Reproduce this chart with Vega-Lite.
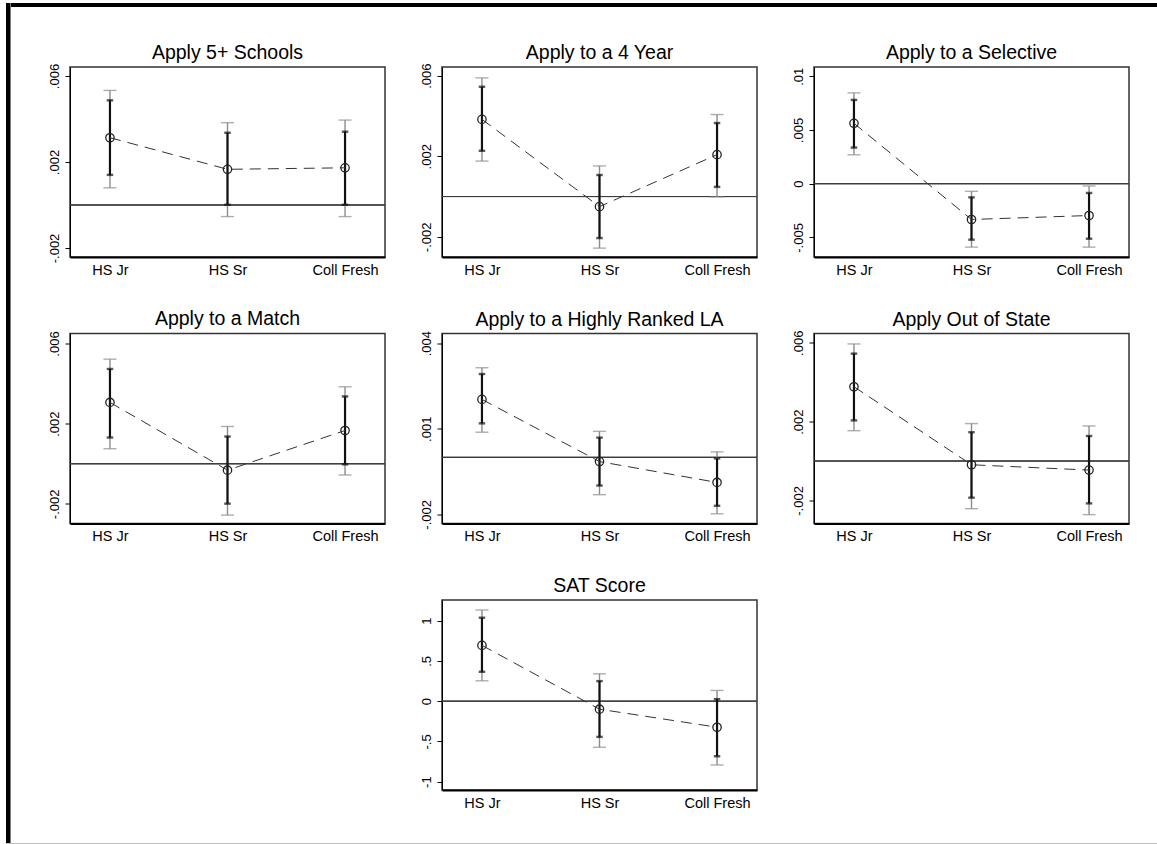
{
"$schema": "https://vega.github.io/schema/vega-lite/v6.json",
"background": "white",
"padding": {"left": 6, "top": 3, "right": 0, "bottom": 0},
"spacing": 0,
"vconcat": [
 {"hconcat": [
   {"width": 4.5, "height": 840, "data": {"values": [{}]}, "mark": {"type": "point", "opacity": 0, "size": 0}, "view": {"fill": "#000000", "stroke": null}},
   {"concat": [
     {"width": 1146.5, "height": 4, "data": {"values": [{}]}, "mark": {"type": "point", "opacity": 0, "size": 0}, "view": {"fill": "#000000", "stroke": null}},
     {"hconcat": [
       {"width": 35.5, "height": 1, "data": {"values": [{}]}, "mark": {"type": "point", "opacity": 0, "size": 0}, "view": {"stroke": null}},
       {"concat": [
        {"title": {"text": "Apply 5+ Schools", "dy": 4}, "width": 315, "height": 190,
         "data": {"values": [
          {"cat": "HS Jr", "est": 0.00313, "lo_n": 0.0014, "hi_n": 0.00487, "lo_w": 0.0008, "hi_w": 0.00533},
          {"cat": "HS Sr", "est": 0.00166, "lo_n": 0.00001, "hi_n": 0.00336, "lo_w": -0.00054, "hi_w": 0.00383},
          {"cat": "Coll Fresh", "est": 0.00173, "lo_n": 0.00001, "hi_n": 0.00341, "lo_w": -0.00054, "hi_w": 0.00395}]},
         "layer": [
          {"mark": {"type": "rule", "color": "#3c3c3c", "strokeWidth": 1}, "encoding": {"y": {"datum": 0, "type": "quantitative", "scale": {"domain": [-0.00242, 0.00642], "nice": false, "zero": false}, "axis": {"values": [-0.002, 0.002, 0.006], "title": null, "labelExpr": "replace(toString(datum.value), regexp('^(-?)0[.]'), '$1.')"}}}},
          {"mark": {"type": "errorbar", "ticks": {"size": 13, "color": "#8c8c8c", "thickness": 1.4}, "rule": {"color": "#8c8c8c", "strokeWidth": 1.4}}, "encoding": {"x": {"field": "cat", "type": "ordinal", "sort": ["HS Jr", "HS Sr", "Coll Fresh"], "scale": {"type": "point", "padding": 0.34}, "axis": {"title": null}}, "y": {"field": "lo_w", "type": "quantitative", "title": null, "scale": {"domain": [-0.00242, 0.00642], "nice": false, "zero": false}}, "y2": {"field": "hi_w"}}},
          {"mark": {"type": "errorbar", "ticks": {"size": 6.5, "color": "#111111", "thickness": 2.4}, "rule": {"color": "#111111", "strokeWidth": 2.2}}, "encoding": {"x": {"field": "cat", "type": "ordinal", "sort": ["HS Jr", "HS Sr", "Coll Fresh"], "scale": {"type": "point", "padding": 0.34}, "axis": {"title": null}}, "y": {"field": "lo_n", "type": "quantitative", "title": null, "scale": {"domain": [-0.00242, 0.00642], "nice": false, "zero": false}}, "y2": {"field": "hi_n"}}},
          {"mark": {"type": "line", "color": "#333333", "strokeWidth": 1, "strokeDash": [11, 7]}, "encoding": {"x": {"field": "cat", "type": "ordinal", "sort": ["HS Jr", "HS Sr", "Coll Fresh"], "scale": {"type": "point", "padding": 0.34}, "axis": {"title": null}}, "y": {"field": "est", "type": "quantitative", "title": null, "scale": {"domain": [-0.00242, 0.00642], "nice": false, "zero": false}}}},
          {"mark": {"type": "point", "shape": "circle", "filled": false, "size": 70, "color": "#222222", "strokeWidth": 1.3, "opacity": 1}, "encoding": {"x": {"field": "cat", "type": "ordinal", "sort": ["HS Jr", "HS Sr", "Coll Fresh"], "scale": {"type": "point", "padding": 0.34}, "axis": {"title": null}}, "y": {"field": "est", "type": "quantitative", "title": null, "scale": {"domain": [-0.00242, 0.00642], "nice": false, "zero": false}}}}
         ]},
        {"title": {"text": "Apply to a 4 Year", "dy": 4}, "width": 315, "height": 190,
         "data": {"values": [
          {"cat": "HS Jr", "est": 0.00383, "lo_n": 0.00227, "hi_n": 0.00545, "lo_w": 0.00176, "hi_w": 0.00589},
          {"cat": "HS Sr", "est": -0.0005, "lo_n": -0.00206, "hi_n": 0.00107, "lo_w": -0.00256, "hi_w": 0.00152},
          {"cat": "Coll Fresh", "est": 0.00208, "lo_n": 0.00048, "hi_n": 0.00365, "lo_w": -0.00002, "hi_w": 0.00407}]},
         "layer": [
          {"mark": {"type": "rule", "color": "#3c3c3c", "strokeWidth": 1}, "encoding": {"y": {"datum": 0, "type": "quantitative", "scale": {"domain": [-0.003, 0.00643], "nice": false, "zero": false}, "axis": {"values": [-0.002, 0.002, 0.006], "title": null, "labelExpr": "replace(toString(datum.value), regexp('^(-?)0[.]'), '$1.')"}}}},
          {"mark": {"type": "errorbar", "ticks": {"size": 13, "color": "#8c8c8c", "thickness": 1.4}, "rule": {"color": "#8c8c8c", "strokeWidth": 1.4}}, "encoding": {"x": {"field": "cat", "type": "ordinal", "sort": ["HS Jr", "HS Sr", "Coll Fresh"], "scale": {"type": "point", "padding": 0.34}, "axis": {"title": null}}, "y": {"field": "lo_w", "type": "quantitative", "title": null, "scale": {"domain": [-0.003, 0.00643], "nice": false, "zero": false}}, "y2": {"field": "hi_w"}}},
          {"mark": {"type": "errorbar", "ticks": {"size": 6.5, "color": "#111111", "thickness": 2.4}, "rule": {"color": "#111111", "strokeWidth": 2.2}}, "encoding": {"x": {"field": "cat", "type": "ordinal", "sort": ["HS Jr", "HS Sr", "Coll Fresh"], "scale": {"type": "point", "padding": 0.34}, "axis": {"title": null}}, "y": {"field": "lo_n", "type": "quantitative", "title": null, "scale": {"domain": [-0.003, 0.00643], "nice": false, "zero": false}}, "y2": {"field": "hi_n"}}},
          {"mark": {"type": "line", "color": "#333333", "strokeWidth": 1, "strokeDash": [11, 7]}, "encoding": {"x": {"field": "cat", "type": "ordinal", "sort": ["HS Jr", "HS Sr", "Coll Fresh"], "scale": {"type": "point", "padding": 0.34}, "axis": {"title": null}}, "y": {"field": "est", "type": "quantitative", "title": null, "scale": {"domain": [-0.003, 0.00643], "nice": false, "zero": false}}}},
          {"mark": {"type": "point", "shape": "circle", "filled": false, "size": 70, "color": "#222222", "strokeWidth": 1.3, "opacity": 1}, "encoding": {"x": {"field": "cat", "type": "ordinal", "sort": ["HS Jr", "HS Sr", "Coll Fresh"], "scale": {"type": "point", "padding": 0.34}, "axis": {"title": null}}, "y": {"field": "est", "type": "quantitative", "title": null, "scale": {"domain": [-0.003, 0.00643], "nice": false, "zero": false}}}}
         ]},
        {"title": {"text": "Apply to a Selective", "dy": 0}, "width": 315, "height": 190,
         "data": {"values": [
          {"cat": "HS Jr", "est": 0.00562, "lo_n": 0.00336, "hi_n": 0.0078, "lo_w": 0.00269, "hi_w": 0.00845},
          {"cat": "HS Sr", "est": -0.00333, "lo_n": -0.00521, "hi_n": -0.00127, "lo_w": -0.0059, "hi_w": -0.00071},
          {"cat": "Coll Fresh", "est": -0.00296, "lo_n": -0.00512, "hi_n": -0.00086, "lo_w": -0.0059, "hi_w": -0.00021}]},
         "layer": [
          {"mark": {"type": "rule", "color": "#3c3c3c", "strokeWidth": 1}, "encoding": {"y": {"datum": 0, "type": "quantitative", "scale": {"domain": [-0.00682, 0.01086], "nice": false, "zero": false}, "axis": {"values": [-0.005, 0, 0.005, 0.01], "title": null, "labelExpr": "replace(toString(datum.value), regexp('^(-?)0[.]'), '$1.')"}}}},
          {"mark": {"type": "errorbar", "ticks": {"size": 13, "color": "#8c8c8c", "thickness": 1.4}, "rule": {"color": "#8c8c8c", "strokeWidth": 1.4}}, "encoding": {"x": {"field": "cat", "type": "ordinal", "sort": ["HS Jr", "HS Sr", "Coll Fresh"], "scale": {"type": "point", "padding": 0.34}, "axis": {"title": null}}, "y": {"field": "lo_w", "type": "quantitative", "title": null, "scale": {"domain": [-0.00682, 0.01086], "nice": false, "zero": false}}, "y2": {"field": "hi_w"}}},
          {"mark": {"type": "errorbar", "ticks": {"size": 6.5, "color": "#111111", "thickness": 2.4}, "rule": {"color": "#111111", "strokeWidth": 2.2}}, "encoding": {"x": {"field": "cat", "type": "ordinal", "sort": ["HS Jr", "HS Sr", "Coll Fresh"], "scale": {"type": "point", "padding": 0.34}, "axis": {"title": null}}, "y": {"field": "lo_n", "type": "quantitative", "title": null, "scale": {"domain": [-0.00682, 0.01086], "nice": false, "zero": false}}, "y2": {"field": "hi_n"}}},
          {"mark": {"type": "line", "color": "#333333", "strokeWidth": 1, "strokeDash": [11, 7]}, "encoding": {"x": {"field": "cat", "type": "ordinal", "sort": ["HS Jr", "HS Sr", "Coll Fresh"], "scale": {"type": "point", "padding": 0.34}, "axis": {"title": null}}, "y": {"field": "est", "type": "quantitative", "title": null, "scale": {"domain": [-0.00682, 0.01086], "nice": false, "zero": false}}}},
          {"mark": {"type": "point", "shape": "circle", "filled": false, "size": 70, "color": "#222222", "strokeWidth": 1.3, "opacity": 1}, "encoding": {"x": {"field": "cat", "type": "ordinal", "sort": ["HS Jr", "HS Sr", "Coll Fresh"], "scale": {"type": "point", "padding": 0.34}, "axis": {"title": null}}, "y": {"field": "est", "type": "quantitative", "title": null, "scale": {"domain": [-0.00682, 0.01086], "nice": false, "zero": false}}}}
         ]},
        {"title": {"text": "Apply to a Match", "dy": 3}, "width": 315, "height": 190,
         "data": {"values": [
          {"cat": "HS Jr", "est": 0.00306, "lo_n": 0.00131, "hi_n": 0.00473, "lo_w": 0.00075, "hi_w": 0.00522},
          {"cat": "HS Sr", "est": -0.00032, "lo_n": -0.00199, "hi_n": 0.00136, "lo_w": -0.00256, "hi_w": 0.00186},
          {"cat": "Coll Fresh", "est": 0.00166, "lo_n": -0.00003, "hi_n": 0.00336, "lo_w": -0.00056, "hi_w": 0.00384}]},
         "layer": [
          {"mark": {"type": "rule", "color": "#3c3c3c", "strokeWidth": 1}, "encoding": {"y": {"datum": 0, "type": "quantitative", "scale": {"domain": [-0.00298, 0.0065], "nice": false, "zero": false}, "axis": {"values": [-0.002, 0.002, 0.006], "title": null, "labelExpr": "replace(toString(datum.value), regexp('^(-?)0[.]'), '$1.')"}}}},
          {"mark": {"type": "errorbar", "ticks": {"size": 13, "color": "#8c8c8c", "thickness": 1.4}, "rule": {"color": "#8c8c8c", "strokeWidth": 1.4}}, "encoding": {"x": {"field": "cat", "type": "ordinal", "sort": ["HS Jr", "HS Sr", "Coll Fresh"], "scale": {"type": "point", "padding": 0.34}, "axis": {"title": null}}, "y": {"field": "lo_w", "type": "quantitative", "title": null, "scale": {"domain": [-0.00298, 0.0065], "nice": false, "zero": false}}, "y2": {"field": "hi_w"}}},
          {"mark": {"type": "errorbar", "ticks": {"size": 6.5, "color": "#111111", "thickness": 2.4}, "rule": {"color": "#111111", "strokeWidth": 2.2}}, "encoding": {"x": {"field": "cat", "type": "ordinal", "sort": ["HS Jr", "HS Sr", "Coll Fresh"], "scale": {"type": "point", "padding": 0.34}, "axis": {"title": null}}, "y": {"field": "lo_n", "type": "quantitative", "title": null, "scale": {"domain": [-0.00298, 0.0065], "nice": false, "zero": false}}, "y2": {"field": "hi_n"}}},
          {"mark": {"type": "line", "color": "#333333", "strokeWidth": 1, "strokeDash": [11, 7]}, "encoding": {"x": {"field": "cat", "type": "ordinal", "sort": ["HS Jr", "HS Sr", "Coll Fresh"], "scale": {"type": "point", "padding": 0.34}, "axis": {"title": null}}, "y": {"field": "est", "type": "quantitative", "title": null, "scale": {"domain": [-0.00298, 0.0065], "nice": false, "zero": false}}}},
          {"mark": {"type": "point", "shape": "circle", "filled": false, "size": 70, "color": "#222222", "strokeWidth": 1.3, "opacity": 1}, "encoding": {"x": {"field": "cat", "type": "ordinal", "sort": ["HS Jr", "HS Sr", "Coll Fresh"], "scale": {"type": "point", "padding": 0.34}, "axis": {"title": null}}, "y": {"field": "est", "type": "quantitative", "title": null, "scale": {"domain": [-0.00298, 0.0065], "nice": false, "zero": false}}}}
         ]},
        {"title": {"text": "Apply to a Highly Ranked LA", "dy": 3.5}, "width": 315, "height": 190,
         "data": {"values": [
          {"cat": "HS Jr", "est": 0.00203, "lo_n": 0.00119, "hi_n": 0.00292, "lo_w": 0.00088, "hi_w": 0.00314},
          {"cat": "HS Sr", "est": -0.00015, "lo_n": -0.00099, "hi_n": 0.00069, "lo_w": -0.00131, "hi_w": 0.00091},
          {"cat": "Coll Fresh", "est": -0.00088, "lo_n": -0.0017, "hi_n": -0.00004, "lo_w": -0.00198, "hi_w": 0.00019}]},
         "layer": [
          {"mark": {"type": "rule", "color": "#3c3c3c", "strokeWidth": 1}, "encoding": {"y": {"datum": 0, "type": "quantitative", "scale": {"domain": [-0.00232, 0.00434], "nice": false, "zero": false}, "axis": {"values": [-0.002, 0.001, 0.004], "title": null, "labelExpr": "replace(toString(datum.value), regexp('^(-?)0[.]'), '$1.')"}}}},
          {"mark": {"type": "errorbar", "ticks": {"size": 13, "color": "#8c8c8c", "thickness": 1.4}, "rule": {"color": "#8c8c8c", "strokeWidth": 1.4}}, "encoding": {"x": {"field": "cat", "type": "ordinal", "sort": ["HS Jr", "HS Sr", "Coll Fresh"], "scale": {"type": "point", "padding": 0.34}, "axis": {"title": null}}, "y": {"field": "lo_w", "type": "quantitative", "title": null, "scale": {"domain": [-0.00232, 0.00434], "nice": false, "zero": false}}, "y2": {"field": "hi_w"}}},
          {"mark": {"type": "errorbar", "ticks": {"size": 6.5, "color": "#111111", "thickness": 2.4}, "rule": {"color": "#111111", "strokeWidth": 2.2}}, "encoding": {"x": {"field": "cat", "type": "ordinal", "sort": ["HS Jr", "HS Sr", "Coll Fresh"], "scale": {"type": "point", "padding": 0.34}, "axis": {"title": null}}, "y": {"field": "lo_n", "type": "quantitative", "title": null, "scale": {"domain": [-0.00232, 0.00434], "nice": false, "zero": false}}, "y2": {"field": "hi_n"}}},
          {"mark": {"type": "line", "color": "#333333", "strokeWidth": 1, "strokeDash": [11, 7]}, "encoding": {"x": {"field": "cat", "type": "ordinal", "sort": ["HS Jr", "HS Sr", "Coll Fresh"], "scale": {"type": "point", "padding": 0.34}, "axis": {"title": null}}, "y": {"field": "est", "type": "quantitative", "title": null, "scale": {"domain": [-0.00232, 0.00434], "nice": false, "zero": false}}}},
          {"mark": {"type": "point", "shape": "circle", "filled": false, "size": 70, "color": "#222222", "strokeWidth": 1.3, "opacity": 1}, "encoding": {"x": {"field": "cat", "type": "ordinal", "sort": ["HS Jr", "HS Sr", "Coll Fresh"], "scale": {"type": "point", "padding": 0.34}, "axis": {"title": null}}, "y": {"field": "est", "type": "quantitative", "title": null, "scale": {"domain": [-0.00232, 0.00434], "nice": false, "zero": false}}}}
         ]},
        {"title": {"text": "Apply Out of State", "dy": 4}, "width": 315, "height": 190,
         "data": {"values": [
          {"cat": "HS Jr", "est": 0.00377, "lo_n": 0.00206, "hi_n": 0.00545, "lo_w": 0.00154, "hi_w": 0.00594},
          {"cat": "HS Sr", "est": -0.00019, "lo_n": -0.00186, "hi_n": 0.00146, "lo_w": -0.00242, "hi_w": 0.0019},
          {"cat": "Coll Fresh", "est": -0.00046, "lo_n": -0.00215, "hi_n": 0.00127, "lo_w": -0.00272, "hi_w": 0.00178}]},
         "layer": [
          {"mark": {"type": "rule", "color": "#3c3c3c", "strokeWidth": 1}, "encoding": {"y": {"datum": 0, "type": "quantitative", "scale": {"domain": [-0.00317, 0.00647], "nice": false, "zero": false}, "axis": {"values": [-0.002, 0.002, 0.006], "title": null, "labelExpr": "replace(toString(datum.value), regexp('^(-?)0[.]'), '$1.')"}}}},
          {"mark": {"type": "errorbar", "ticks": {"size": 13, "color": "#8c8c8c", "thickness": 1.4}, "rule": {"color": "#8c8c8c", "strokeWidth": 1.4}}, "encoding": {"x": {"field": "cat", "type": "ordinal", "sort": ["HS Jr", "HS Sr", "Coll Fresh"], "scale": {"type": "point", "padding": 0.34}, "axis": {"title": null}}, "y": {"field": "lo_w", "type": "quantitative", "title": null, "scale": {"domain": [-0.00317, 0.00647], "nice": false, "zero": false}}, "y2": {"field": "hi_w"}}},
          {"mark": {"type": "errorbar", "ticks": {"size": 6.5, "color": "#111111", "thickness": 2.4}, "rule": {"color": "#111111", "strokeWidth": 2.2}}, "encoding": {"x": {"field": "cat", "type": "ordinal", "sort": ["HS Jr", "HS Sr", "Coll Fresh"], "scale": {"type": "point", "padding": 0.34}, "axis": {"title": null}}, "y": {"field": "lo_n", "type": "quantitative", "title": null, "scale": {"domain": [-0.00317, 0.00647], "nice": false, "zero": false}}, "y2": {"field": "hi_n"}}},
          {"mark": {"type": "line", "color": "#333333", "strokeWidth": 1, "strokeDash": [11, 7]}, "encoding": {"x": {"field": "cat", "type": "ordinal", "sort": ["HS Jr", "HS Sr", "Coll Fresh"], "scale": {"type": "point", "padding": 0.34}, "axis": {"title": null}}, "y": {"field": "est", "type": "quantitative", "title": null, "scale": {"domain": [-0.00317, 0.00647], "nice": false, "zero": false}}}},
          {"mark": {"type": "point", "shape": "circle", "filled": false, "size": 70, "color": "#222222", "strokeWidth": 1.3, "opacity": 1}, "encoding": {"x": {"field": "cat", "type": "ordinal", "sort": ["HS Jr", "HS Sr", "Coll Fresh"], "scale": {"type": "point", "padding": 0.34}, "axis": {"title": null}}, "y": {"field": "est", "type": "quantitative", "title": null, "scale": {"domain": [-0.00317, 0.00647], "nice": false, "zero": false}}}}
         ]},
        {"width": 315, "height": 190, "data": {"values": [{}]}, "mark": {"type": "point", "opacity": 0, "size": 0}, "view": {"stroke": null}},
        {"title": {"text": "SAT Score", "dy": 0.5}, "width": 315, "height": 190,
         "data": {"values": [
          {"cat": "HS Jr", "est": 0.693, "lo_n": 0.365, "hi_n": 1.037, "lo_w": 0.253, "hi_w": 1.133},
          {"cat": "HS Sr", "est": -0.1, "lo_n": -0.444, "hi_n": 0.249, "lo_w": -0.573, "hi_w": 0.34},
          {"cat": "Coll Fresh", "est": -0.324, "lo_n": -0.685, "hi_n": 0.025, "lo_w": -0.793, "hi_w": 0.133}]},
         "layer": [
          {"mark": {"type": "rule", "color": "#3c3c3c", "strokeWidth": 1}, "encoding": {"y": {"datum": 0, "type": "quantitative", "scale": {"domain": [-1.104, 1.257], "nice": false, "zero": false}, "axis": {"values": [-1, -0.5, 0, 0.5, 1], "title": null, "labelExpr": "replace(toString(datum.value), regexp('^(-?)0[.]'), '$1.')"}}}},
          {"mark": {"type": "errorbar", "ticks": {"size": 13, "color": "#8c8c8c", "thickness": 1.4}, "rule": {"color": "#8c8c8c", "strokeWidth": 1.4}}, "encoding": {"x": {"field": "cat", "type": "ordinal", "sort": ["HS Jr", "HS Sr", "Coll Fresh"], "scale": {"type": "point", "padding": 0.34}, "axis": {"title": null}}, "y": {"field": "lo_w", "type": "quantitative", "title": null, "scale": {"domain": [-1.104, 1.257], "nice": false, "zero": false}}, "y2": {"field": "hi_w"}}},
          {"mark": {"type": "errorbar", "ticks": {"size": 6.5, "color": "#111111", "thickness": 2.4}, "rule": {"color": "#111111", "strokeWidth": 2.2}}, "encoding": {"x": {"field": "cat", "type": "ordinal", "sort": ["HS Jr", "HS Sr", "Coll Fresh"], "scale": {"type": "point", "padding": 0.34}, "axis": {"title": null}}, "y": {"field": "lo_n", "type": "quantitative", "title": null, "scale": {"domain": [-1.104, 1.257], "nice": false, "zero": false}}, "y2": {"field": "hi_n"}}},
          {"mark": {"type": "line", "color": "#333333", "strokeWidth": 1, "strokeDash": [11, 7]}, "encoding": {"x": {"field": "cat", "type": "ordinal", "sort": ["HS Jr", "HS Sr", "Coll Fresh"], "scale": {"type": "point", "padding": 0.34}, "axis": {"title": null}}, "y": {"field": "est", "type": "quantitative", "title": null, "scale": {"domain": [-1.104, 1.257], "nice": false, "zero": false}}}},
          {"mark": {"type": "point", "shape": "circle", "filled": false, "size": 70, "color": "#222222", "strokeWidth": 1.3, "opacity": 1}, "encoding": {"x": {"field": "cat", "type": "ordinal", "sort": ["HS Jr", "HS Sr", "Coll Fresh"], "scale": {"type": "point", "padding": 0.34}, "axis": {"title": null}}, "y": {"field": "est", "type": "quantitative", "title": null, "scale": {"domain": [-1.104, 1.257], "nice": false, "zero": false}}}}
         ]}
       ], "columns": 3, "spacing": {"row": 76.5, "column": 57}, "bounds": "flush"}
     ], "spacing": 0}
   ], "columns": 1, "align": "none", "spacing": 34}
 ], "spacing": 0},
 {"width": 1151, "height": 1, "data": {"values": [{}]}, "mark": {"type": "point", "opacity": 0, "size": 0}, "view": {"fill": "#c0c0c0", "stroke": null}}
],
"config": {
 "font": "Liberation Sans",
 "view": {"stroke": "#333333", "strokeWidth": 1.5},
 "title": {"fontSize": 19.5, "font": "Liberation Sans", "fontWeight": "normal", "color": "#000000", "offset": 0, "anchor": "middle"},
 "axis": {"labelFont": "Liberation Sans", "labelColor": "#000000", "domainColor": "#000000", "tickColor": "#000000", "grid": false},
 "axisX": {"labelAngle": 0, "ticks": false, "tickSize": 0, "labelFontSize": 14.5, "labelPadding": 6, "domainWidth": 2},
 "axisY": {"labelAngle": -90, "labelAlign": "center", "labelBaseline": "bottom", "labelFontSize": 13, "tickSize": 5, "tickWidth": 1, "domainWidth": 1, "labelPadding": 4}
}
}
